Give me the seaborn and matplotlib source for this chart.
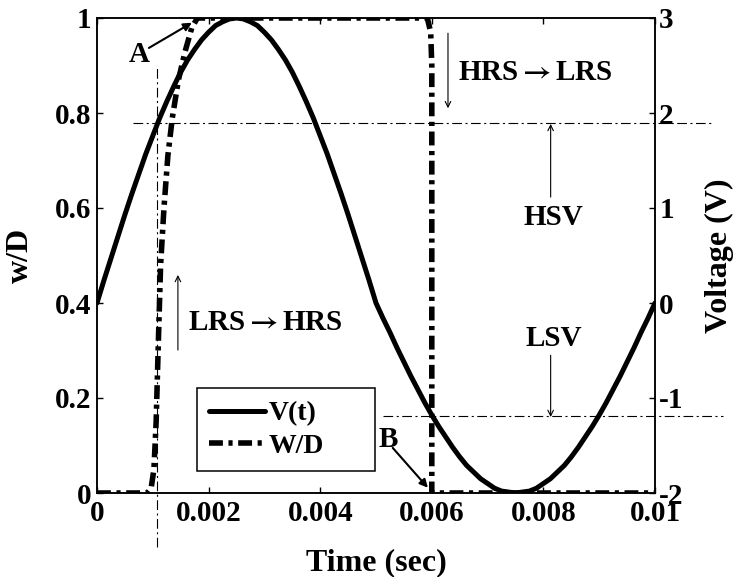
import matplotlib
matplotlib.use("Agg")
import matplotlib.pyplot as plt
import seaborn as sns
import pandas as pd

# ---------------- data ----------------
time_v = [i * 0.000125 for i in range(81)]
voltage = [0.0, 0.24, 0.47, 0.70, 0.93, 1.15, 1.36, 1.57, 1.76, 1.95,
           2.12, 2.28, 2.43, 2.56, 2.67, 2.77, 2.85, 2.92, 2.96, 2.99,
           3.0, 2.99, 2.96, 2.92, 2.85, 2.77, 2.67, 2.56, 2.43, 2.28,
           2.12, 1.95, 1.76, 1.57, 1.36, 1.15, 0.93, 0.70, 0.47, 0.24,
           0.0, -0.16, -0.31, -0.47, -0.62, -0.77, -0.91, -1.05, -1.18, -1.30,
           -1.41, -1.52, -1.62, -1.71, -1.78, -1.85, -1.90, -1.95, -1.98, -1.99,
           -2.0, -1.99, -1.98, -1.95, -1.90, -1.85, -1.78, -1.71, -1.62, -1.52,
           -1.41, -1.30, -1.18, -1.05, -0.91, -0.77, -0.62, -0.47, -0.31, -0.16, 0.0]

time_w = [0.0, 0.0009, 0.00097, 0.00102, 0.00106, 0.0011, 0.00114, 0.0012, 0.00127, 0.00135,
          0.00146, 0.00158, 0.0017, 0.0018, 0.00592, 0.00598, 0.006, 0.006, 0.01]
w_over_d = [0.0, 0.0, 0.01, 0.05, 0.15, 0.32, 0.48, 0.60, 0.71, 0.79,
            0.87, 0.93, 0.98, 1.0, 1.0, 0.97, 0.9, 0.0, 0.0]

x_ticks = [0, 0.002, 0.004, 0.006, 0.008, 0.01]
x_tick_labels = ["0", "0.002", "0.004", "0.006", "0.008", "0.01"]
left_ticks = [0, 0.2, 0.4, 0.6, 0.8, 1]
left_tick_labels = ["0", "0.2", "0.4", "0.6", "0.8", "1"]
right_ticks = [-2, -1, 0, 1, 2, 3]
right_tick_labels = ["-2", "-1", "0", "1", "2", "3"]

hsv_level = 0.78   # in w/D units
lsv_level = 0.163
vline_t = 0.00108

# ---------------- style ----------------
sns.set_style("ticks")
plt.rcParams["font.family"] = ["Liberation Serif", "DejaVu Serif"]
plt.rcParams["font.weight"] = "bold"
plt.rcParams["mathtext.fontset"] = "stix"
plt.rcParams["lines.scale_dashes"] = False
plt.rcParams["axes.edgecolor"] = "black"
plt.rcParams["axes.linewidth"] = 1.1
plt.rcParams["text.color"] = "black"
plt.rcParams["axes.labelcolor"] = "black"
plt.rcParams["xtick.color"] = "black"
plt.rcParams["ytick.color"] = "black"

fig = plt.figure(figsize=(7.33, 5.77), dpi=100)
ax = fig.add_axes([97 / 733, 1 - 493 / 577, 558 / 733, 475 / 577])
ax2 = ax.twinx()

df_v = pd.DataFrame({"t": time_v, "V": voltage})
df_w = pd.DataFrame({"t": time_w, "w": w_over_d})

sns.lineplot(data=df_v, x="t", y="V", ax=ax2, color="black", lw=3.6,
             estimator=None, sort=False, label="V(t)", legend=False,
             solid_capstyle="round")
sns.lineplot(data=df_w, x="t", y="w", ax=ax, color="black", lw=4.0,
             estimator=None, sort=False, label="W/D", legend=False,
             dash_capstyle="butt")
wline = ax.get_lines()[-1]
wline.set_dashes((10, 4, 3, 4))

# thin dash-dot guide lines (extending outside the axes)
thin_dash = (0, (7, 2.5, 1.5, 2.5))
ax.plot([0.00065, 0.01102], [hsv_level, hsv_level], color="black", lw=0.8,
        linestyle=thin_dash, clip_on=False)
ax.plot([0.00513, 0.01122], [lsv_level, lsv_level], color="black", lw=0.8,
        linestyle=thin_dash, clip_on=False)
ax.plot([vline_t, vline_t], [-0.114, 0.895], color="black", lw=0.8,
        linestyle=thin_dash, clip_on=False)

# axes limits and ticks
ax.set_xlim(0, 0.01)
ax.set_ylim(0, 1)
ax2.set_ylim(-2, 3)
ax.set_xticks(x_ticks)
ax.set_xticklabels(x_tick_labels)
ax.set_yticks(left_ticks)
ax.set_yticklabels(left_tick_labels)
ax2.set_yticks(right_ticks)
ax2.set_yticklabels(right_tick_labels)

tick_fs = 21
ax.tick_params(axis="both", direction="in", length=4, width=1, labelsize=tick_fs,
               top=True, pad=5, colors="black")
ax.tick_params(axis="y", right=False, pad=4)
ax2.tick_params(axis="y", direction="in", length=4, width=1, labelsize=tick_fs, pad=3,
                colors="black")
for lab in ax.get_xticklabels() + ax.get_yticklabels() + ax2.get_yticklabels():
    lab.set_fontweight("bold")

for a in (ax, ax2):
    for s in a.spines.values():
        s.set_visible(True)
        s.set_color("black")
        s.set_linewidth(1.1)

ax.set_xlabel("Time (sec)", fontsize=23, fontweight="bold", color="black")
ax.set_ylabel("w/D", fontsize=23, fontweight="bold", color="black")
ax2.set_ylabel("Voltage (V)", fontsize=23, fontweight="bold", color="black")
ax.xaxis.set_label_coords(0.5, -0.116)
ax.yaxis.set_label_coords(-0.111, 0.5)
ax2.yaxis.set_label_coords(1.0896, 0.5)

# legend
h1, l1 = ax2.get_legend_handles_labels()
h2, l2 = ax.get_legend_handles_labels()
leg = ax.legend(h1 + h2, l1 + l2, loc="lower left",
                bbox_to_anchor=(0.179, 0.046, 0.319, 0.179), mode="expand",
                borderaxespad=0, prop={"weight": "bold", "size": 20},
                handlelength=2.0, handletextpad=0.15, borderpad=0.45,
                labelspacing=0.25, frameon=True, fancybox=False, framealpha=1)
leg.get_frame().set_edgecolor("black")
leg.get_frame().set_linewidth(1.1)
for t in leg.get_texts():
    t.set_color("black")
ax2.set_zorder(ax.get_zorder() + 1)
ax2.patch.set_visible(False)
leg.remove()
ax2.add_artist(leg)

# annotations
txt_fs = 21
ax.text(0.00075, 0.924, "A", fontsize=txt_fs, fontweight="bold", ha="center", va="center")
ax.annotate("", xy=(0.0017, 0.99), xytext=(0.00093, 0.937),
            arrowprops=dict(arrowstyle="-|>", lw=1.5, color="black",
                            mutation_scale=12, shrinkA=0, shrinkB=0))
ax.text(0.00522, 0.112, "B", fontsize=txt_fs, fontweight="bold", ha="center", va="center")
ax.annotate("", xy=(0.00593, 0.011), xytext=(0.0053, 0.095),
            arrowprops=dict(arrowstyle="-|>", lw=1.5, color="black",
                            mutation_scale=12, shrinkA=0, shrinkB=0))

ax.text(0.00647, 0.886, r"HRS$\rightarrow$LRS", fontsize=txt_fs, fontweight="bold",
        ha="left", va="center")
ax.annotate("", xy=(0.00629, 0.81), xytext=(0.00629, 0.968),
            arrowprops=dict(arrowstyle="->", lw=0.8, color="black", shrinkA=0, shrinkB=0))

ax.text(0.00163, 0.36, r"LRS$\rightarrow$HRS", fontsize=txt_fs, fontweight="bold",
        ha="left", va="center")
ax.annotate("", xy=(0.00145, 0.459), xytext=(0.00145, 0.301),
            arrowprops=dict(arrowstyle="->", lw=0.8, color="black", shrinkA=0, shrinkB=0))

ax.text(0.00818, 0.579, "HSV", fontsize=txt_fs, fontweight="bold", ha="center", va="center")
ax.annotate("", xy=(0.00813, 0.777), xytext=(0.00813, 0.623),
            arrowprops=dict(arrowstyle="->", lw=0.8, color="black", shrinkA=0, shrinkB=0))

ax.text(0.00818, 0.326, "LSV", fontsize=txt_fs, fontweight="bold", ha="center", va="center")
ax.annotate("", xy=(0.00813, 0.16), xytext=(0.00813, 0.29),
            arrowprops=dict(arrowstyle="->", lw=0.8, color="black", shrinkA=0, shrinkB=0))

fig.savefig("out.png", dpi=100, facecolor="white")
